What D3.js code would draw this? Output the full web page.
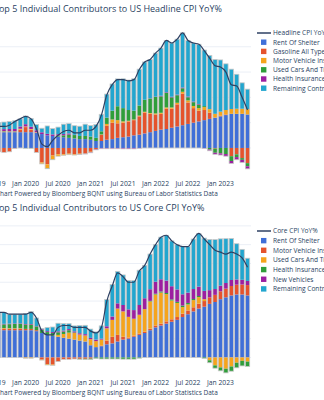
<!DOCTYPE html>
<html>
<head>
<meta charset="UTF-8">
<script src="https://cdn.jsdelivr.net/npm/d3@7/dist/d3.min.js"></script>
<style>
  body { margin: 0; background: #fff; overflow: hidden; }
  svg { display: block; font-family: "Open Sans", sans-serif; }
</style>
</head>
<body>
<svg id="chart" width="324" height="400"></svg>
<script>

// months Jul 2019 .. Jun 2023
var months = d3.timeMonth.range(new Date(2019, 6, 1), new Date(2023, 6, 1));
var tickLabels = ["Jul 2019", "Jan 2020", "Jul 2020", "Jan 2021", "Jul 2021", "Jan 2022", "Jul 2022", "Jan 2023"];

// ---- headline CPI contributions (pct points)
var headLine   = [1.8,1.7,1.7,1.8,2.1,2.3, 2.5,2.3,1.5,0.3,0.1,0.6,1.0,1.3,1.4,1.2,1.2,1.4, 1.4,1.7,2.6,4.2,5.0,5.4,5.4,5.3,5.4,6.2,6.8,7.0, 7.5,7.9,8.5,8.3,8.6,9.1,8.5,8.3,8.2,7.7,7.1,6.5, 6.4,6.0,5.0,4.9,4.0,3.0];
var headRent   = [1.25,1.25,1.25,1.25,1.25,1.25, 1.25,1.25,1.2,1.1,1.0,0.95,0.9,0.85,0.8,0.75,0.7,0.7, 0.65,0.55,0.55,0.65,0.7,0.8,0.85,0.9,1.0,1.05,1.15,1.25, 1.35,1.45,1.5,1.6,1.7,1.8,1.9,2.0,2.1,2.2,2.3,2.4, 2.5,2.6,2.7,2.7,2.7,2.65];
var headGas    = [-0.15,-0.3,-0.35,-0.3,-0.05,0.2, 0.4,0.2,-0.35,-1.15,-1.3,-0.6,-0.5,-0.5,-0.45,-0.5,-0.45,-0.4, -0.3,-0.1,0.5,1.1,1.3,1.15,1.15,1.2,1.2,1.45,1.65,1.45, 1.3,1.25,1.6,1.5,1.75,2.5,1.7,1.15,0.85,0.8,0.5,-0.05, 0.05,0.05,-0.65,-0.5,-0.8,-1.2];
var headMvi    = [0.05,0.05,0.05,0.05,0.05,0.05, 0.05,0.05,0.04,-0.1,-0.3,-0.3,-0.15,-0.08,-0.08,-0.06,-0.05,-0.05, -0.04,0.0,0.02,0.15,0.25,0.25,0.1,0.05,0.05,0.06,0.06,0.06, 0.08,0.08,0.1,0.1,0.12,0.14,0.16,0.17,0.2,0.23,0.27,0.3, 0.32,0.35,0.38,0.4,0.4,0.42];
var headUsed   = [0.02,0.03,0.03,0.02,0.02,0.02, -0.03,-0.03,0.0,-0.01,-0.04,-0.03,0.08,0.15,0.25,0.27,0.25,0.25, 0.25,0.25,0.25,0.5,0.7,1.1,1.05,0.85,0.7,0.8,0.95,1.15, 1.3,1.3,1.15,0.8,0.6,0.28,0.25,0.3,0.28,0.08,-0.12,-0.33, -0.42,-0.48,-0.38,-0.22,-0.14,-0.25];
var headHealth = [0.12,0.14,0.16,0.18,0.18,0.18, 0.18,0.18,0.16,0.14,0.12,0.12,0.11,0.1,0.1,0.02,-0.02,-0.03, -0.04,-0.05,-0.06,-0.06,-0.06,-0.06,-0.07,-0.07,-0.07,-0.03,0.0,0.02, 0.03,0.05,0.05,0.05,0.05,0.06,0.06,0.05,0.05,-0.04,-0.1,-0.12, -0.14,-0.17,-0.2,-0.21,-0.21,-0.2];
var headRemain = [0.51,0.53,0.56,0.60,0.65,0.60, 0.65,0.65,0.45,0.32,0.62,0.46,0.56,0.78,0.78,0.72,0.77,0.93, 0.88,1.05,1.34,1.86,2.11,2.16,2.32,2.37,2.52,2.87,2.99,3.07, 3.44,3.77,4.10,4.25,4.38,4.32,4.43,4.63,4.72,4.43,4.25,4.30, 4.09,3.65,3.15,2.73,2.05,1.58];

// ---- core CPI contributions (pct points)
var coreLine    = [2.2,2.4,2.4,2.3,2.3,2.3, 2.3,2.4,2.1,1.4,1.2,1.2,1.6,1.7,1.7,1.6,1.6,1.6, 1.4,1.3,1.6,3.0,3.8,4.5,4.3,4.0,4.0,4.6,4.9,5.5, 6.0,6.4,6.5,6.2,6.0,5.9,5.9,6.3,6.6,6.3,6.0,5.7, 5.6,5.5,5.6,5.5,5.3,4.8];
var coreRent    = [1.45,1.45,1.45,1.45,1.45,1.45, 1.45,1.45,1.4,1.3,1.2,1.15,1.1,1.05,1.0,0.95,0.9,0.85, 0.65,0.55,0.6,0.7,0.75,0.85,0.95,1.0,1.1,1.2,1.3,1.45, 1.6,1.7,1.8,1.9,2.0,2.15,2.3,2.45,2.6,2.7,2.85,2.95, 3.1,3.2,3.3,3.35,3.35,3.3];
var coreMvi     = [0.07,0.07,0.07,0.07,0.07,0.07, 0.07,0.07,0.05,-0.12,-0.35,-0.38,-0.22,-0.1,-0.1,-0.08,-0.07,-0.07, -0.06,0.0,0.03,0.2,0.35,0.35,0.15,0.06,0.06,0.07,0.07,0.08, 0.1,0.1,0.12,0.13,0.15,0.18,0.2,0.22,0.26,0.3,0.35,0.38, 0.42,0.46,0.5,0.52,0.53,0.55];
var coreUsed    = [0.03,0.04,0.04,0.03,0.03,0.03, -0.04,-0.04,0.0,-0.02,-0.05,-0.04,0.1,0.2,0.32,0.35,0.32,0.32, 0.32,0.32,0.32,0.65,0.9,1.4,1.35,1.1,0.9,1.0,1.2,1.45, 1.65,1.65,1.45,1.0,0.75,0.35,0.32,0.38,0.35,0.1,-0.15,-0.42, -0.53,-0.6,-0.48,-0.28,-0.18,-0.22];
var coreHealth  = [0.15,0.18,0.2,0.22,0.23,0.23, 0.23,0.23,0.2,0.18,0.15,0.15,0.14,0.13,0.13,0.03,-0.03,-0.04, -0.05,-0.06,-0.08,-0.08,-0.08,-0.08,-0.09,-0.09,-0.09,-0.04,0.0,0.03, 0.04,0.06,0.06,0.06,0.06,0.08,0.08,0.06,0.06,-0.05,-0.13,-0.15, -0.18,-0.22,-0.25,-0.27,-0.27,-0.26];
var coreNewVeh  = [0.03,0.03,0.03,0.03,0.03,0.03, 0.03,0.03,0.02,0.03,0.05,0.05,0.05,0.05,0.06,0.06,0.07,0.07, 0.07,0.08,0.05,0.11,0.18,0.28,0.34,0.4,0.46,0.52,0.58,0.62, 0.64,0.65,0.66,0.7,0.66,0.6,0.55,0.53,0.5,0.44,0.38,0.31, 0.3,0.3,0.32,0.28,0.25,0.22];
var coreRemain  = [0.47,0.63,0.61,0.50,0.49,0.49, 0.56,0.66,0.43,0.03,0.20,0.27,0.43,0.37,0.29,0.29,0.41,0.47, 0.47,0.41,0.68,1.42,1.70,1.70,1.60,1.53,1.57,1.85,1.75,1.87, 1.97,2.24,2.41,2.41,2.38,2.54,2.45,2.66,2.83,2.81,2.70,2.63, 2.49,2.36,2.21,1.90,1.62,1.21];

var colors = ["#3f6fd8", "#e5532c", "#f6a41c", "#2f9e3a", "#9c1fa0", "#22a6cf"];

var svg = d3.select("#chart");
var fmtMonth = d3.timeFormat("%b %Y");

var x = d3.scaleBand()
    .domain(months.map(fmtMonth))
    .range([-9.0, 249.7])
    .paddingInner(0.2)
    .paddingOuter(0);

function drawChart(opts) {
    var g = svg.append("g");
    var y = d3.scaleLinear().domain(opts.domain).range(opts.range);

    // gridlines
    g.selectAll(".grid").data(opts.grid).enter().append("line")
        .attr("x1", 0).attr("x2", 251)
        .attr("y1", d => y(d)).attr("y2", d => y(d))
        .attr("stroke", "#ebeff6").attr("stroke-width", 1);

    var rows = months.map(function (m, i) {
        var r = { month: fmtMonth(m) };
        opts.series.forEach(function (s) { r[s.name] = s.values[i]; });
        return r;
    });
    var keys = opts.series.map(s => s.name);
    var stacked = d3.stack().keys(keys).offset(d3.stackOffsetDiverging)(rows);

    stacked.forEach(function (layer, k) {
        g.append("g").attr("fill", colors[k])
            .selectAll("rect").data(layer).enter().append("rect")
            .attr("x", d => x(d.data.month))
            .attr("width", x.bandwidth())
            .attr("y", d => y(Math.max(d[0], d[1])))
            .attr("height", d => Math.abs(y(d[0]) - y(d[1])));
    });

    // bar outlines
    g.selectAll(".outline").data(rows).enter().append("rect")
        .attr("x", d => x(d.month))
        .attr("width", x.bandwidth())
        .attr("y", function (d) {
            var top = d3.sum(keys, k => Math.max(d[k], 0));
            return y(top);
        })
        .attr("height", function (d) {
            var top = d3.sum(keys, k => Math.max(d[k], 0));
            var bot = d3.sum(keys, k => Math.min(d[k], 0));
            return y(bot) - y(top);
        })
        .attr("fill", "none").attr("stroke", "#c8c8c8").attr("stroke-width", 0.8);

    // yoy line
    var line = d3.line()
        .x((d, i) => x(fmtMonth(months[i])) + x.bandwidth() / 2)
        .y(d => y(d))
        .curve(d3.curveMonotoneX);
    g.append("path").datum(opts.line)
        .attr("d", line)
        .attr("fill", "none").attr("stroke", "#2e4163").attr("stroke-width", 1.2);

    // x axis
    var ax = g.append("g")
        .attr("transform", "translate(0," + opts.axisY + ")")
        .call(d3.axisBottom(x).tickValues(tickLabels).tickSize(0).tickPadding(0));
    ax.select(".domain").remove();
    ax.selectAll("text").attr("fill", "#2a3f5f").style("font-size", "6.8px")
        .style("font-family", "'Open Sans', sans-serif");

    // title
    g.append("text").attr("x", -6).attr("y", opts.titleY)
        .attr("fill", "#2a3f5f").style("font-size", "9px")
        .text(opts.title);

    // caption
    g.append("text").attr("x", -4).attr("y", opts.captionY)
        .attr("fill", "#2a3f5f").style("font-size", "6.5px")
        .text("Chart Powered by Bloomberg BQNT using Bureau of Labor Statistics Data");

    // legend
    var lg = g.append("g").attr("transform", "translate(257," + opts.legendY + ")");
    lg.append("line").attr("x1", 0).attr("x2", 14).attr("y1", 0).attr("y2", 0)
        .attr("stroke", "#2e4163").attr("stroke-width", 1.5);
    lg.append("text").attr("x", 16).attr("y", 2.4).attr("fill", "#2a3f5f")
        .style("font-size", "6.6px").text(opts.lineName);
    opts.series.forEach(function (s, k) {
        var yy = (k + 1) * opts.legendStep;
        lg.append("rect").attr("x", 4).attr("y", yy - 2.7).attr("width", 5.4).attr("height", 5.4)
            .attr("fill", colors[k]);
        lg.append("text").attr("x", 16).attr("y", yy + 2.4).attr("fill", "#2a3f5f")
            .style("font-size", "6.6px").text(s.name);
    });
}

drawChart({
    domain: [-1.9, 9.5], range: [172.0, 27.8],
    grid: [0, 2, 4, 6, 8],
    line: headLine,
    lineName: "Headline CPI YoY%",
    series: [
        { name: "Rent Of Shelter", values: headRent },
        { name: "Gasoline All Types", values: headGas },
        { name: "Motor Vehicle Insurance", values: headMvi },
        { name: "Used Cars And Trucks", values: headUsed },
        { name: "Health Insurance", values: headHealth },
        { name: "Remaining Contributors", values: headRemain }
    ],
    axisY: 181, titleY: 11.5, captionY: 195.5,
    title: "Top 5 Individual Contributors to US Headline CPI YoY%",
    legendY: 33, legendStep: 9.2
});

drawChart({
    domain: [-0.8, 7.2], range: [372.5, 222.1],
    grid: [0, 1, 2, 3, 4, 5, 6, 7],
    line: coreLine,
    lineName: "Core CPI YoY%",
    series: [
        { name: "Rent Of Shelter", values: coreRent },
        { name: "Motor Vehicle Insurance", values: coreMvi },
        { name: "Used Cars And Trucks", values: coreUsed },
        { name: "Health Insurance", values: coreHealth },
        { name: "New Vehicles", values: coreNewVeh },
        { name: "Remaining Contributors", values: coreRemain }
    ],
    axisY: 380, titleY: 210.5, captionY: 394.5,
    title: "Top 5 Individual Contributors to US Core CPI YoY%",
    legendY: 231, legendStep: 9.65
});

</script>
</body>
</html>
